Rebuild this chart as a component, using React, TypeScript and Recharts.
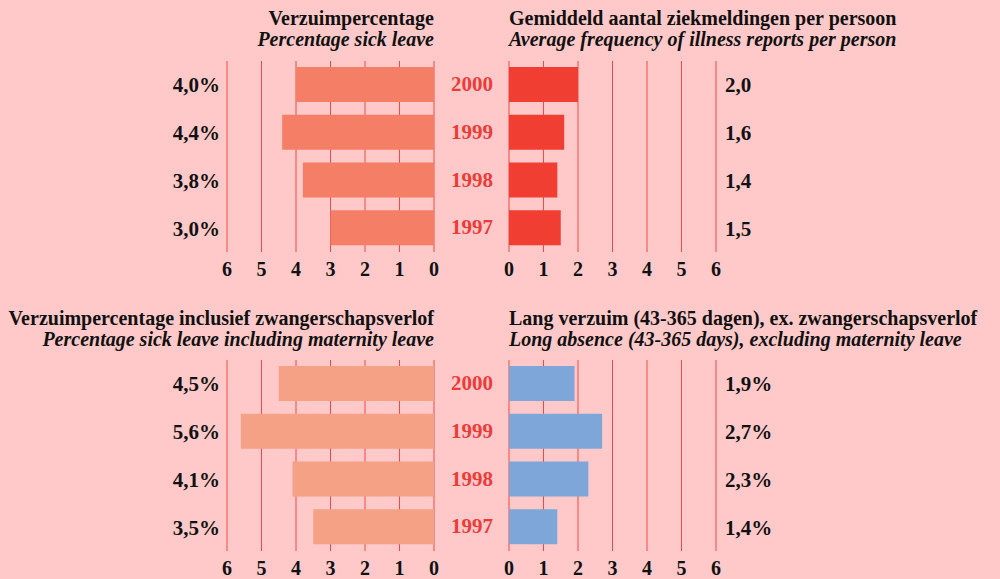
import { BarChart, Bar, XAxis, YAxis, CartesianGrid } from "recharts";

const years = ["2000", "1999", "1998", "1997"];
const sickLeave = [4.0, 4.4, 3.8, 3.0];
const illnessReports = [2.0, 1.6, 1.4, 1.5];
const sickLeaveMaternity = [4.5, 5.6, 4.1, 3.5];
const longAbsence = [1.9, 2.7, 2.3, 1.4];
const axisTicks = [0, 1, 2, 3, 4, 5, 6];

const FONT = "'Liberation Serif', 'DejaVu Serif', serif";
const BG = "#FFC9C9";
const GRID = "#F04A46";
const YEAR_RED = "#EE3B38";

const fmt = (v: number, pct: boolean) => v.toFixed(1).replace(".", ",") + (pct ? "%" : "");

const makeRows = (values: number[], pct: boolean) =>
  years.map((year, i) => ({ year, value: values[i], label: fmt(values[i], pct) }));

const tickStyle = { fill: "#111", fontSize: 21, fontWeight: 700, fontFamily: FONT };
const axisTickStyle = { ...tickStyle, fontSize: 20 };

function YearTick(props: any) {
  const { x, y, payload } = props;
  return (
    <text
      x={x + 30}
      y={y}
      dy="0.3em"
      textAnchor="middle"
      fill={YEAR_RED}
      fontSize={21}
      fontWeight={700}
      fontFamily={FONT}
    >
      {payload.value}
    </text>
  );
}

function LeftPanel({ values, color, top }: { values: number[]; color: string; top: number }) {
  const rows = makeRows(values, true);
  return (
    <div style={{ position: "absolute", left: 0, top }}>
      <BarChart
        width={500}
        height={280}
        data={rows}
        layout="vertical"
        margin={{ top: 61, right: 0, left: 0, bottom: 0 }}
      >
        <CartesianGrid horizontal={false} stroke={GRID} yAxisId="v" />
        <XAxis
          type="number"
          domain={[0, 6]}
          ticks={axisTicks}
          interval={0}
          reversed
          axisLine={false}
          tickLine={false}
          tickMargin={4}
          height={28}
          tick={axisTickStyle}
        />
        <YAxis
          yAxisId="v"
          type="category"
          dataKey="label"
          width={227}
          axisLine={false}
          tickLine={false}
          tickMargin={1}
          tick={tickStyle}
        />
        <YAxis
          yAxisId="y"
          orientation="right"
          type="category"
          dataKey="year"
          width={66}
          axisLine={false}
          tickLine={false}
          tick={<YearTick />}
        />
        <Bar yAxisId="v" dataKey="value" fill={color} barSize={35} isAnimationActive={false} />
      </BarChart>
    </div>
  );
}

function RightPanel({
  values,
  color,
  top,
  pct,
}: {
  values: number[];
  color: string;
  top: number;
  pct: boolean;
}) {
  const rows = makeRows(values, pct);
  return (
    <div style={{ position: "absolute", left: 500, top }}>
      <BarChart
        width={500}
        height={280}
        data={rows}
        layout="vertical"
        margin={{ top: 61, right: 0, left: 9, bottom: 0 }}
      >
        <CartesianGrid horizontal={false} stroke={GRID} yAxisId="v" />
        <XAxis
          type="number"
          domain={[0, 6]}
          ticks={axisTicks}
          interval={0}
          axisLine={false}
          tickLine={false}
          tickMargin={4}
          height={28}
          tick={axisTickStyle}
        />
        <YAxis
          yAxisId="v"
          orientation="right"
          type="category"
          dataKey="label"
          width={284}
          axisLine={false}
          tickLine={false}
          tickMargin={3}
          tick={tickStyle}
        />
        <Bar yAxisId="v" dataKey="value" fill={color} barSize={35} isAnimationActive={false} />
      </BarChart>
    </div>
  );
}

function Title({ x, y, anchor, bold, italic }: { x: number; y: number; anchor: "start" | "end"; bold: string; italic: string }) {
  return (
    <>
      <text x={x} y={y} textAnchor={anchor} fontFamily={FONT} fontWeight={700} fontSize={20} fill="#111">
        {bold}
      </text>
      <text
        x={x}
        y={y + 21}
        textAnchor={anchor}
        fontFamily={FONT}
        fontWeight={700}
        fontStyle="italic"
        fontSize={20}
        fill="#111"
      >
        {italic}
      </text>
    </>
  );
}

export default function App() {
  return (
    <div
      style={{
        position: "absolute",
        left: 0,
        top: 0,
        width: 1000,
        height: 579,
        background: BG,
        overflow: "hidden",
      }}
    >
      <LeftPanel values={sickLeave} color="#F47E66" top={0} />
      <RightPanel values={illnessReports} color="#F03E33" top={0} pct={false} />
      <LeftPanel values={sickLeaveMaternity} color="#F5A186" top={299} />
      <RightPanel values={longAbsence} color="#7FA6D9" top={299} pct={true} />
      <svg width={1000} height={579} style={{ position: "absolute", left: 0, top: 0, pointerEvents: "none" }}>
        <Title x={434} y={25} anchor="end" bold="Verzuimpercentage" italic="Percentage sick leave" />
        <Title
          x={509}
          y={25}
          anchor="start"
          bold="Gemiddeld aantal ziekmeldingen per persoon"
          italic="Average frequency of illness reports per person"
        />
        <Title
          x={434}
          y={325}
          anchor="end"
          bold="Verzuimpercentage inclusief zwangerschapsverlof"
          italic="Percentage sick leave including maternity leave"
        />
        <Title
          x={509}
          y={325}
          anchor="start"
          bold="Lang verzuim (43-365 dagen), ex. zwangerschapsverlof"
          italic="Long absence (43-365 days), excluding maternity leave"
        />
      </svg>
    </div>
  );
}
